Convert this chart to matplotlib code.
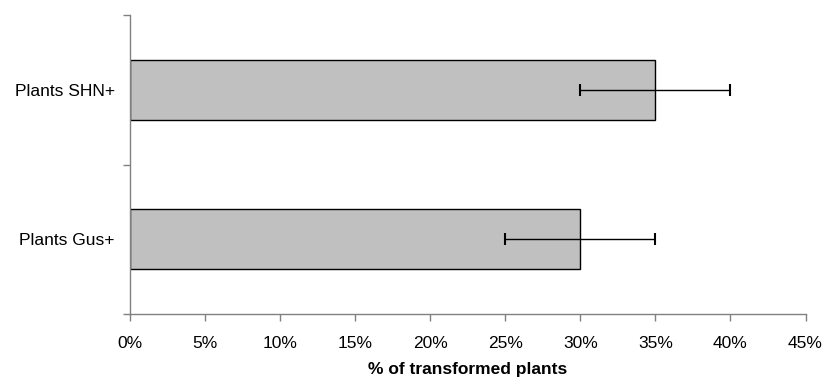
import matplotlib
matplotlib.use("Agg")
import matplotlib.pyplot as plt
from matplotlib.ticker import FuncFormatter

plt.rcParams['font.family'] = ['Liberation Sans', 'DejaVu Sans']

# transformation rates (percent) and their error
groups = ['Plants Gus+', 'Plants SHN+']
rates = [30, 35]
errors = [5, 5]
xticks = [0, 5, 10, 15, 20, 25, 30, 35, 40, 45]

fig = plt.figure(figsize=(8.24, 3.8), dpi=100)
ax = fig.add_axes([130 / 824, 1 - 314 / 380, 675.5 / 824, 299 / 380])

pos = list(range(len(groups)))
ax.barh(pos, rates, height=0.4, color='#c0c0c0', edgecolor='black', linewidth=1)
ax.errorbar(rates, pos, xerr=errors, fmt='none', ecolor='black',
            elinewidth=1, capsize=4, capthick=1.5)

ax.set_xlim(0, 45)
ax.set_ylim(-0.5, 1.5)
ax.set_xticks(xticks)
ax.xaxis.set_major_formatter(FuncFormatter(lambda v, p: '%d%%' % v))

# ticks between the categories, labels at the centres
ax.set_yticks([-0.5, 0.5, 1.5])
ax.set_yticklabels([])
ax.set_yticks(pos, minor=True)
ax.set_yticklabels(groups, minor=True)
ax.tick_params(axis='y', which='minor', length=0, pad=11, labelsize=12.5)
ax.tick_params(axis='y', which='major', length=5, color='#808080', width=1)
ax.tick_params(axis='x', length=5, color='#808080', width=1, labelsize=12.5, pad=10.5)

for s in ['top', 'right']:
    ax.spines[s].set_visible(False)
for s in ['left', 'bottom']:
    ax.spines[s].set_color('#808080')
    ax.spines[s].set_linewidth(1)

ax.set_xlabel('% of transformed plants', fontsize=12.5, fontweight='bold', labelpad=8.5)

fig.savefig('out.png', dpi=100)
